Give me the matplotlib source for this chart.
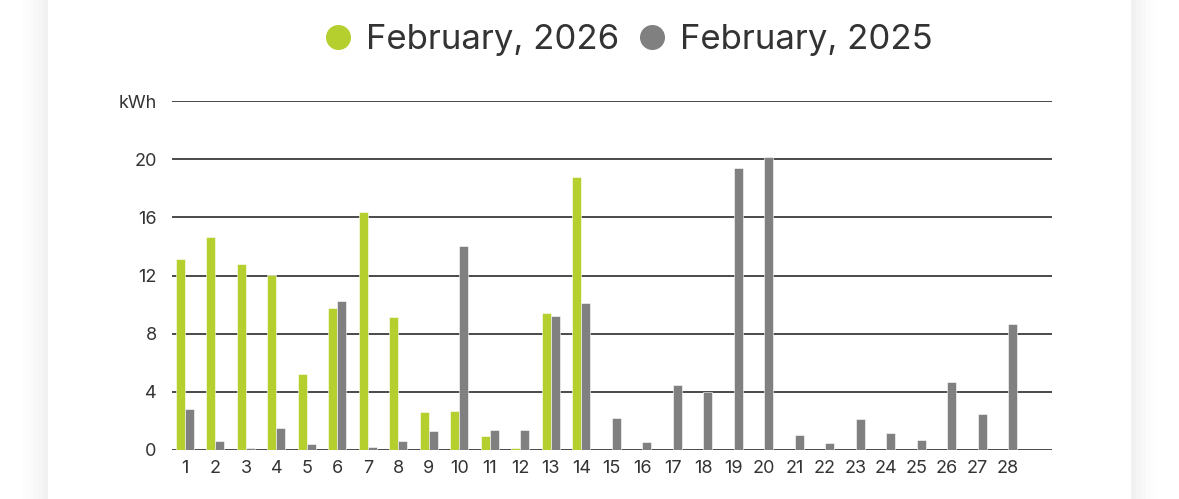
import matplotlib.pyplot as plt
from matplotlib.lines import Line2D
from matplotlib.patches import Rectangle
import numpy as np

plt.rcParams['font.family'] = ['Inter', 'DejaVu Sans']

days = list(range(1, 29))
feb_2026 = [13.14, 14.66, 12.8, 12.04, 5.2, 9.79, 16.35, 9.15, 2.61, 2.66,
            0.96, 0.11, 9.45, 18.74]
feb_2025 = [2.82, 0.64, 0.11, 1.51, 0.39, 10.25, 0.18, 0.62, 1.28, 14.06,
            1.38, 1.40, 9.22, 10.11, 2.18, 0.55, 4.45, 3.99, 19.36, 20.16,
            1.03, 0.48, 2.13, 1.17, 0.69, 4.66, 2.48, 8.67]
y_ticks = [0, 4, 8, 12, 16, 20, 24]
y_labels = ['0', '4', '8', '12', '16', '20', 'kWh']

green = '#b5cf2f'
grey = '#808080'
text_col = '#333333'

W, H = 1179, 499
fig = plt.figure(figsize=(W / 100, H / 100), dpi=100)
fig.patch.set_facecolor('#ffffff')

# card with faint shadow on the sides
for i, a in enumerate([0.006, 0.008, 0.010, 0.012, 0.014]):
    pad = (5 - i) * 5
    fig.patches.append(Rectangle(((48 - pad) / W, -0.1), (1083 + 2 * pad) / W, 1.2,
                                 transform=fig.transFigure, facecolor='black',
                                 alpha=a, edgecolor='none', zorder=0))
fig.patches.append(Rectangle((48 / W, -0.1), 1083 / W, 1.2, transform=fig.transFigure,
                             facecolor='white', edgecolor='none', zorder=0))

ax = fig.add_axes([172 / W, 1 - 450 / H, (1052 - 172) / W, (450 - 101) / H])
ax.set_facecolor('none')
ax.set_zorder(2)

w = 0.295
x = np.array(days)
ax.bar(x[:len(feb_2026)] - w / 2, feb_2026, width=w, color=green,
       edgecolor='white', linewidth=0.4, zorder=3)
ax.bar(x + w / 2, feb_2025, width=w, color=grey,
       edgecolor='white', linewidth=0.4, zorder=3)

ax.set_xlim(1 - 13 / 30.48, 28 + 44 / 30.48)
ax.set_ylim(0, 24)
ax.set_yticks(y_ticks)
ax.set_yticklabels(y_labels)
ax.set_xticks(days)
ax.set_xticklabels([str(d) for d in days])
ax.grid(axis='y', color='#2b2b2b', linewidth=1.2, zorder=1)
ax.set_axisbelow(True)
for s in ax.spines.values():
    s.set_visible(False)
ax.tick_params(axis='y', length=0, pad=11, labelsize=13, labelcolor=text_col)
ax.tick_params(axis='x', length=0, pad=7, labelsize=13, labelcolor=text_col)

handles = [Line2D([], [], marker='o', linestyle='none', color=green, markersize=17),
           Line2D([], [], marker='o', linestyle='none', color=grey, markersize=17)]
leg = fig.legend(handles, ['February, 2026', 'February, 2025'], loc='center',
                 bbox_to_anchor=(627 / W, 1 - 40 / H), ncol=2, frameon=False,
                 fontsize=25, labelcolor=text_col, handletextpad=0.3,
                 columnspacing=0.45, handlelength=1.0)
leg.set_zorder(3)

fig.savefig('out.png', dpi=100)
